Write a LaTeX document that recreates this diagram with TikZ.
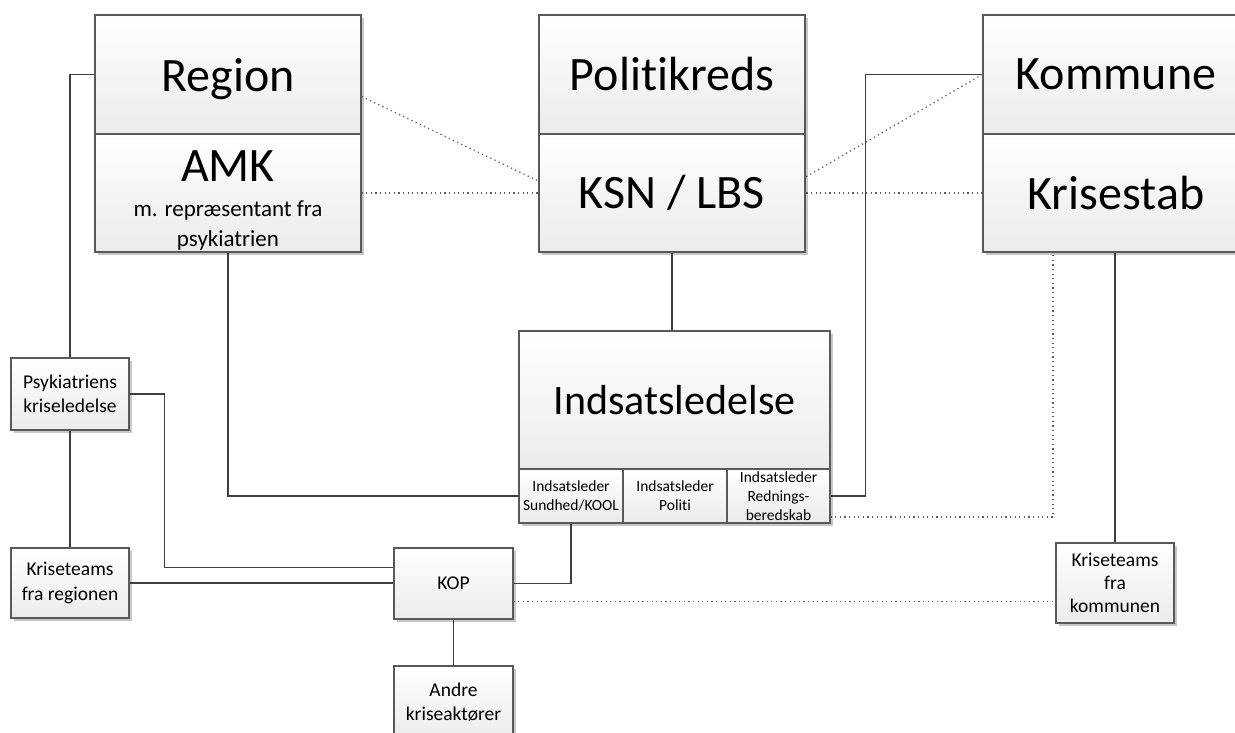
\documentclass[tikz,border=0pt]{standalone}
\usepackage{fontspec}
\setmainfont{Carlito}[Ligatures=NoCommon]
\usepackage{xcolor}
\usepackage{tikz}
\usetikzlibrary{positioning,shadows}
\definecolor{ink}{HTML}{3F3F3F}
\definecolor{edge}{HTML}{595959}
\definecolor{shade}{HTML}{EBEBEB}
\definecolor{dropg}{HTML}{C6C6C6}
\definecolor{dotc}{HTML}{5F5F5F}
\tikzset{
  org/.style={draw=edge,line width=1.3pt,top color=white,bottom color=shade,align=center,inner sep=1pt,
    drop shadow={shadow xshift=3pt,shadow yshift=-3pt,fill=dropg,opacity=1}},
  bigbox/.style={org,minimum width=266pt,minimum height=119pt,font=\fontsize{48}{56}\selectfont},
  midbox/.style={org,minimum width=311pt,minimum height=138pt,font=\fontsize{42}{50}\selectfont},
  subbox/.style={org,minimum width=104pt,minimum height=54pt,font=\fontsize{15.5}{19}\selectfont},
  smallbox/.style={org,minimum width=118pt,minimum height=72pt,font=\fontsize{19.5}{24.5}\selectfont},
  link/.style={draw=ink,line width=1.4pt},
  dotlink/.style={draw=dotc,line width=1.3pt,dash pattern=on 1.2pt off 3.4pt}
}
\begin{document}
\begin{tikzpicture}[x=1pt,y=-1pt]
  \useasboundingbox[fill=white] (0,0) rectangle (1235,733);
  \node[bigbox,text depth=0pt] (region) at (228,74.5) {Region};
  \node[bigbox,minimum height=118pt,font=\fontsize{23}{30}\selectfont] (amk) at (228,193) {{\fontsize{48}{48}\selectfont\rule{0pt}{45pt}AMK}\\[5pt]m. repræsentant fra\\psykiatrien};
  \node[bigbox] (politikreds) at (672,74.5) {Politikreds};
  \node[bigbox,minimum height=118pt] (ksn) at (672,193) {KSN / LBS};
  \node[bigbox] (kommune) at (1116,74.5) {Kommune};
  \node[bigbox,minimum height=118pt] (krisestab) at (1116,193) {Krisestab};
  \node[midbox] (indsats) at (674.5,400) {Indsatsledelse};
  \node[subbox] (ilsund) at (571,496) {Indsatsleder\\Sundhed/KOOL};
  \node[subbox] (ilpoliti) at (675,496) {Indsatsleder\\Politi};
  \node[subbox,minimum width=103pt] (ilredning) at (778.5,496) {Indsatsleder\\Rednings-\\beredskab};
  \node[smallbox] (psyk) at (70,394) {Psykiatriens\\kriseledelse};
  \node[smallbox,minimum height=70pt] (kteamreg) at (70,583) {Kriseteams\\fra regionen};
  \node[smallbox,minimum width=119pt,minimum height=71pt] (kop) at (453.5,583.5) {KOP};
  \node[smallbox,minimum width=119pt] (andre) at (453.5,702) {Andre\\kriseaktører};
  \node[smallbox,minimum height=80pt,font=\fontsize{19.5}{23}\selectfont] (kteamkom) at (1115,583) {Kriseteams\\fra\\kommunen};
  \draw[link] (region.west) -| (psyk.north);
  \draw[link] (psyk.south) -- (kteamreg.north);
  \draw[link] (psyk.east) -- ++(35,0) |- ([yshift=16pt]kop.west);
  \draw[link] (kteamreg.east) -- (kteamreg.east -| kop.west);
  \draw[link] (amk.south) |- (ilsund.west);
  \draw[link] (kop.east) -| (ilsund.south);
  \draw[link] (kop.south) -- (andre.north);
  \draw[link] (ksn.south) -- (ksn.south |- indsats.north);
  \draw[link] (ilredning.east) -- ++(35,0) |- (kommune.west);
  \draw[link] (kteamkom.north |- krisestab.south) -- (kteamkom.north);
  \draw[dotlink] ([yshift=-22pt]region.east) -- ([yshift=12pt]ksn.west);
  \draw[dotlink] (amk.east) -- (ksn.west);
  \draw[dotlink] (kommune.west) -- ([yshift=16pt]ksn.east);
  \draw[dotlink] (krisestab.west) -- (ksn.east);
  \draw[dotlink] ([yshift=-21pt]ilredning.east) -| ([xshift=-63pt]krisestab.south);
  \draw[dotlink] ([yshift=-18pt]kop.east) -- ([yshift=-18pt]kop.east -| kteamkom.west);
\end{tikzpicture}
\end{document}
